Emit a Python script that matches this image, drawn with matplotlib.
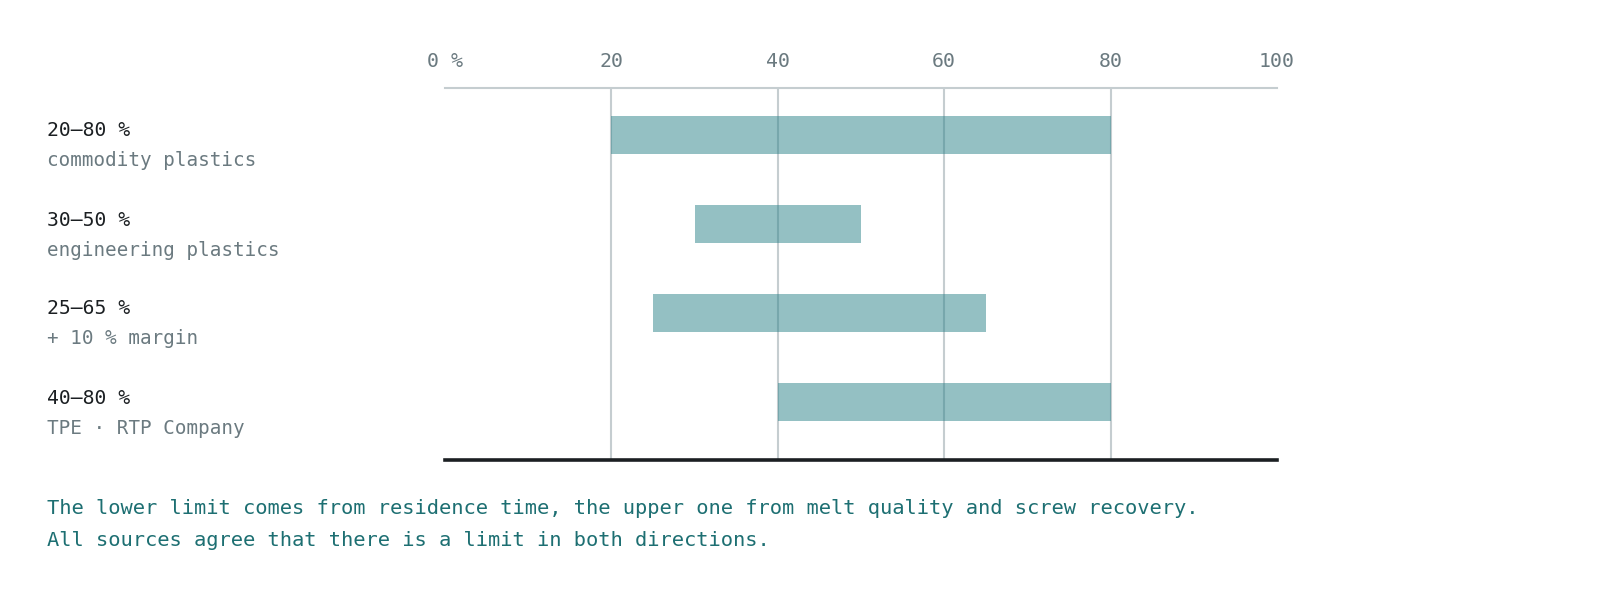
import matplotlib.pyplot as plt
import matplotlib.transforms as mtransforms

# ---------------------------------------------------------------------------
# Data
# ---------------------------------------------------------------------------
range_labels = ["20–80 %", "30–50 %", "25–65 %", "40–80 %"]
sources = ["commodity plastics", "engineering plastics", "+ 10 % margin", "TPE · RTP Company"]
low = [20, 30, 25, 40]
high = [80, 50, 65, 80]
ticks = [0, 20, 40, 60, 80, 100]
tick_labels = ["0 %", "20", "40", "60", "80", "100"]
note_lines = [
    "The lower limit comes from residence time, the upper one from melt quality and screw recovery.",
    "All sources agree that there is a limit in both directions.",
]

FONT = ["DejaVu Sans Mono"]
DARK = "#1b1f22"
GRAY = "#6b7a80"
TEAL = "#1d6f72"
BAR = "#2b8289"
GRID = "#c5cdd0"

fig = plt.figure(figsize=(16.2, 5.9), dpi=100)
ax = fig.add_axes([445 / 1620, 1 - 460 / 590, 832 / 1620, 372 / 590])

ypos = list(range(len(low)))
widths = [h - l for l, h in zip(low, high)]
ax.barh(ypos, widths, left=low, height=38 / 89, color=BAR, alpha=0.5,
        linewidth=0, zorder=3)

ax.set_xlim(0, 100)
ax.set_ylim(3 + 58 / 89, -47 / 89)

# grid verticale
for t in ticks[1:-1]:
    ax.axvline(t, color=GRID, linewidth=1.5, zorder=1)

ax.xaxis.tick_top()
ax.set_xticks(ticks)
ax.set_xticklabels(tick_labels, family=FONT, fontsize=14.3, color=GRAY)
ax.tick_params(axis="x", length=0, pad=12)
ax.set_yticks([])

for side in ["left", "right"]:
    ax.spines[side].set_visible(False)
ax.spines["top"].set_color(GRID)
ax.spines["top"].set_linewidth(1.5)
ax.spines["bottom"].set_color(DARK)
ax.spines["bottom"].set_linewidth(2.6)
ax.spines["bottom"].set_zorder(5)

# etichette a sinistra
tr = mtransforms.blended_transform_factory(fig.transFigure, ax.transData)
for y, lab, src in zip(ypos, range_labels, sources):
    ax.text(47 / 1620, y - 4 / 89, lab, transform=tr, family=FONT, fontsize=14.2,
            color=DARK, ha="left", va="center")
    ax.text(47 / 1620, y + 26 / 89, src, transform=tr, family=FONT, fontsize=13.9,
            color=GRAY, ha="left", va="center")

# nota in fondo
for i, line in enumerate(note_lines):
    fig.text(47 / 1620, 1 - (508 + 32 * i) / 590, line, family=FONT, fontsize=14.65,
             color=TEAL, ha="left", va="center")

fig.savefig("out.png", dpi=100, facecolor="white")
